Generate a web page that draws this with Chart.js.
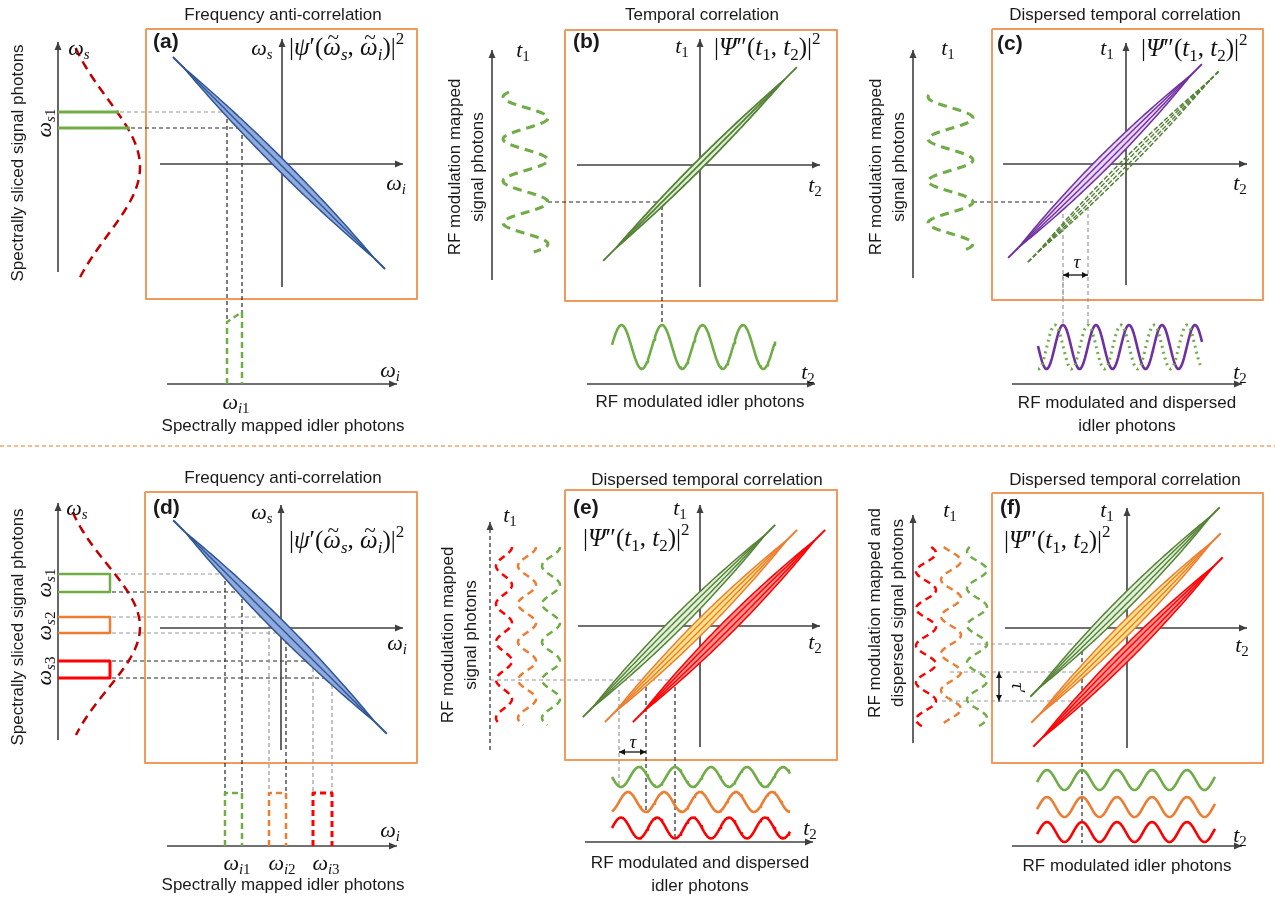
<!DOCTYPE html>
<html>
<head>
<meta charset="utf-8">
<title>Frequency anti-correlation and temporal correlation</title>
<script src="https://cdn.jsdelivr.net/npm/chart.js@4/dist/chart.umd.min.js"></script>
<style>
  html, body { margin: 0; padding: 0; background: #fff; }
  canvas { display: block; }
</style>
</head>
<body>
<canvas id="fig" width="1275" height="901"></canvas>
<script>
// ---- texts ----
const panelTitles = ["Frequency anti-correlation", "Temporal correlation", "Dispersed temporal correlation",
                     "Frequency anti-correlation", "Dispersed temporal correlation", "Dispersed temporal correlation"];
const panelTags = ["(a)", "(b)", "(c)", "(d)", "(e)", "(f)"];
const captions = ["Spectrally mapped idler photons", "RF modulated idler photons", "RF modulated and dispersed\nidler photons",
                  "Spectrally mapped idler photons", "RF modulated and dispersed\nidler photons", "RF modulated idler photons"];
const sideLabels = ["Spectrally sliced signal photons", "RF modulation mapped\nsignal photons", "RF modulation mapped\nsignal photons",
                    "Spectrally sliced signal photons", "RF modulation mapped\nsignal photons", "RF modulation mapped and\ndispersed signal photons"];
const formulaA = "|ψ′(~ω_s, ~ω_i)|^2";
const formulaT = "|Ψ″(t_1, t_2)|^2";

// ---- joint spectra / joint temporal intensities: centre x, centre y, half length, tip half length, half width, rising?, style ----
const lenses = [
  [279, 163, 135, 150, 5.5, false, "blue"],
  [700, 164, 119, 137, 4.2, true, "greenThin"],
  [1105, 161, 122, 137, 6.5, true, "purple"],
  [1124, 166, 122, 136, 4.8, true, "greenDash"],
  [280, 627, 134, 151, 6.5, false, "blue"],
  [679, 621, 122, 136, 6.5, true, "green"],
  [701, 626, 122, 136, 6.5, true, "orange"],
  [729, 626, 122, 136, 6.5, true, "red"],
  [1125, 602, 122, 134, 6.5, true, "green"],
  [1126, 628, 122, 134, 6.5, true, "orange"],
  [1128, 652, 122, 134, 6.5, true, "red"]
];

// ---- signal spectra (gaussian): axis x, centre y, from y, to y, peak height, width ----
const spectra = [[58, 167, 48, 282, 82, 68], [58, 627, 512, 735, 82, 62]];

// ---- signal-side RF traces: centre x, from y, to y, amplitude, period, y of right crest, colour ----
const signalWaves = [
  [525.5, 92, 252, 22.5, 42, 202, "g"],
  [950.5, 95, 250, 22.5, 42, 202, "g"],
  [504, 547, 725, 8, 38, 547, "r"],
  [527, 547, 725, 9, 38, 547, "o"],
  [551, 547, 725, 9, 38, 547, "g"],
  [926, 547, 727, 10, 37, 701, "r"],
  [951, 547, 727, 10, 37, 672, "o"],
  [977, 547, 727, 10, 37, 644, "g"]
];

// ---- idler-side RF traces: centre y, from x, to x, amplitude, period, x of crest, colour, dotted ----
const idlerWaves = [
  [347, 612, 775, 22, 40.5, 662, "g", 0],
  [347, 1038, 1202, 22, 33, 1063, "p", 0],
  [347, 1038, 1202, 22, 33, 1088, "g", 1],
  [777, 612, 790, 10, 36, 675, "g", 0],
  [802, 612, 790, 10, 36, 664, "o", 0],
  [828, 612, 790, 10.5, 36, 657, "r", 0],
  [780, 1037, 1215, 10, 35, 1082, "g", 0],
  [807, 1037, 1215, 10, 35, 1082, "o", 0],
  [832, 1037, 1215, 10, 35, 1082, "r", 0]
];

// ---- spectral slices: signal side [axis x, y top, y bottom, right x, colour], idler side [x left, x right, top left y, top right y, base y, colour] ----
const signalSlices = [[58, 112, 128, 0, "g"], [58, 574, 592, 110, "g"], [58, 617, 633, 110, "o"], [58, 661, 678, 110, "r"]];
const idlerSlices = [[227, 242, 322, 312, 384, "g"], [225, 242, 793, 793, 846, "g"], [269, 286, 793, 793, 846, "o"], [313, 332, 793, 793, 846, "r"]];

// ---- layout ----
const boxes = [[146, 29, 417, 299], [565, 30, 837, 301], [992, 29, 1263, 300],
               [145, 492, 417, 763], [565, 490, 837, 760], [992, 493, 1263, 763]];
const titlePos = [[283, 15], [702, 15], [1125, 15], [283, 478], [707, 480], [1125, 480]];
const tagPos = [[153, 42], [573, 42], [997, 44], [153, 508], [573, 508], [1000, 508]];
const captionPos = [[283, 426], [700, 402], [1127, 403], [283, 885], [700, 863], [1127, 866]];
const sidePos = [[18, 163], [467, 167], [888, 167], [18, 627], [460, 635], [887, 613]];
const formulaPos = [[289, 47, formulaA], [714, 47, formulaT], [1141, 48, formulaT],
                    [289, 540, formulaA], [583, 538, formulaT], [1004, 540, formulaT]];
// axes with arrow at end; last flag = dashed
const axes = [
  [282, 287, 282, 39], [160, 164, 403, 164], [58, 272, 58, 42], [167, 384, 397, 384],
  [700, 287, 700, 39], [577, 165, 820, 165], [492, 280, 492, 50], [587, 384, 815, 384],
  [1126, 285, 1126, 43], [1003, 164, 1247, 164], [913, 278, 913, 50], [1012, 384, 1242, 384],
  [281, 750, 281, 505], [160, 628, 403, 628], [58, 740, 58, 503], [167, 846, 397, 846],
  [700, 747, 700, 505], [578, 626, 820, 626], [490, 750, 490, 522, 1], [585, 842, 813, 842],
  [1127, 748, 1127, 508], [1005, 628, 1247, 628], [913, 743, 913, 515], [1012, 846, 1242, 846]
];
// guide lines: x1, y1, x2, y2, k = black / g = grey
const guides = [
  [120, 112, 227, 112, "g"], [131, 128, 242, 128, "k"], [227, 112, 227, 322, "k"], [242, 128, 242, 312, "k"],
  [548, 202, 660, 202, "k"], [662, 206, 662, 325, "k"],
  [973, 202, 1053, 202, "k"], [1063, 214, 1063, 325, "g"], [1088, 207, 1088, 325, "g"], [1063, 275, 1063, 300, "g"],
  [117, 574, 225, 574, "g"], [112, 592, 242, 592, "k"], [112, 617, 269, 617, "g"], [112, 633, 286, 633, "g"],
  [112, 661, 313, 661, "k"], [112, 678, 332, 678, "k"],
  [225, 574, 225, 793, "k"], [242, 592, 242, 793, "k"], [269, 617, 269, 793, "g"], [286, 633, 286, 793, "k"],
  [313, 661, 313, 793, "g"], [332, 678, 332, 793, "g"],
  [490, 680, 675, 680, "g"], [619, 690, 619, 785, "g"], [646, 680, 646, 812, "k"], [675, 680, 675, 839, "k"],
  [970, 644, 1082, 644, "g"], [950, 672, 1082, 672, "g"], [942, 701, 1082, 701, "g"], [1082, 644, 1082, 843, "k"]
];
const spans = [[1063, 275, 1088, 275], [619, 752, 646, 752], [999, 672, 999, 701]];
// math labels: text, x, y, size, rotation
const mathLabels = [
  ["ω_s", 79, 48], ["ω_s", 262, 48], ["ω_i", 396, 183], ["ω_i", 390, 370], ["ω_{i1}", 236, 402], ["ω_{s1}", 44, 123, 22, -90],
  ["t_1", 523, 50], ["t_1", 682, 46], ["t_2", 815, 185], ["t_2", 808, 372],
  ["t_1", 948, 48], ["t_1", 1107, 48], ["t_2", 1240, 183], ["τ", 1077, 262, 19], ["t_2", 1240, 372],
  ["ω_s", 77, 508], ["ω_s", 262, 512], ["ω_i", 397, 643], ["ω_i", 390, 830],
  ["ω_{i1}", 237, 863], ["ω_{i2}", 282, 863], ["ω_{i3}", 326, 863],
  ["ω_{s1}", 44, 583, 22, -90], ["ω_{s2}", 44, 626, 22, -90], ["ω_{s3}", 44, 671, 22, -90],
  ["t_1", 510, 515], ["t_1", 680, 508], ["t_2", 815, 642], ["τ", 633, 742, 19], ["t_2", 810, 828],
  ["t_1", 950, 510], ["t_1", 1107, 510], ["t_2", 1242, 645], ["τ′", 1018, 688, 19, 90], ["t_2", 1240, 835]
];

const AXIS = "#404040", BOX = "#F09A5E";
const colours = { g: "#70AD47", o: "#ED7D31", r: "#FF0000", p: "#7030A0" };
const lensStyles = {
  blue: { fill: "#8FAADC", line: "#2F5597", inner: [0] },
  greenThin: { fill: "#E2F0D9", line: "#548235", inner: [0] },
  purple: { fill: "#EBD5F7", line: "#7030A0", inner: [-0.35, 0.35] },
  greenDash: { fill: null, line: "#548235", inner: [-0.35, 0.35], dash: [5, 2] },
  green: { fill: "#E2F0D9", line: "#548235", inner: [-0.35, 0.35] },
  orange: { fill: "#FFE38A", line: "#ED7D31", inner: [-0.35, 0.35] },
  red: { fill: "#FF9090", line: "#FF0000", inner: [-0.35, 0.35] }
};

const datasets = [];
function add(points, o) {
  datasets.push(Object.assign({
    data: points, showLine: true, pointRadius: 0, pointHoverRadius: 0, borderWidth: 1.5,
    borderColor: AXIS, fill: false, tension: 0, borderCapStyle: "butt", borderJoinStyle: "round",
    order: -datasets.length
  }, o));
}
const P = (x, y) => ({ x, y });

// separator and panel frames
add([P(0, 446), P(1275, 446)], { borderColor: "#F4A46E", borderWidth: 1.5, borderDash: [4, 3] });
boxes.forEach(b => add([P(b[0], b[1]), P(b[2], b[1]), P(b[2], b[3]), P(b[0], b[3]), P(b[0], b[1])], { borderColor: BOX, borderWidth: 2 }));

// guide lines
guides.forEach(g => add([P(g[0], g[1]), P(g[2], g[3])], {
  borderColor: g[4] === "k" ? "#262626" : "#9A9A9A", borderWidth: 1.2, borderDash: [4, 3]
}));

// axes
axes.forEach(a => add([P(a[0], a[1]), P(a[2], a[3])], { borderColor: a[4] ? "#262626" : AXIS, borderWidth: a[4] ? 1.2 : 1.6, borderDash: a[4] ? [4, 3] : [] }));
spans.forEach(a => add([P(a[0], a[1]), P(a[2], a[3])], { borderColor: "#111", borderWidth: 1.3 }));

// signal spectra
spectra.forEach(([ax, yc, y0, y1, amp, sig]) => {
  const pts = [];
  for (let y = y0; y <= y1; y += 1) pts.push(P(ax + amp * Math.exp(-((y - yc) ** 2) / (2 * sig * sig)), y));
  add(pts, { borderColor: "#C00000", borderWidth: 2.5, borderDash: [9, 6] });
});
// spectral slices
signalSlices.forEach(([ax, yt, yb, xr, c]) => {
  if (!xr) {
    add([P(ax, yt), P(119, yt)], { borderColor: colours[c], borderWidth: 3 });
    add([P(ax, yb), P(130, yb)], { borderColor: colours[c], borderWidth: 3 });
  } else {
    add([P(ax, yt), P(xr, yt), P(xr, yb), P(ax, yb)], { borderColor: colours[c], borderWidth: c === "r" ? 3 : 2.5 });
  }
});
idlerSlices.forEach(([xl, xr, yl, yr, yb, c]) =>
  add([P(xl, yb), P(xl, yl), P(xr, yr), P(xr, yb)], { borderColor: colours[c], borderWidth: c === "r" ? 3 : 2.5, borderDash: [6, 4] }));

// lenses
lenses.forEach(([cx, cy, L, Lt, W, rising, st]) => {
  const s = lensStyles[st];
  const r = Math.SQRT1_2;
  const u = rising ? [r, -r] : [r, r];
  const v = [-u[1], u[0]];
  const at = (t, k) => P(cx + u[0] * L * t + v[0] * W * k * (1 - t * t), cy + u[1] * L * t + v[1] * W * k * (1 - t * t));
  const n = 80;
  const outline = [];
  for (let i = 0; i <= n; i++) outline.push(at(-1 + 2 * i / n, 1));
  for (let i = n; i >= 0; i--) outline.push(at(-1 + 2 * i / n, -1));
  const dash = s.dash || [];
  add(outline, {
    borderColor: s.line, borderWidth: st === "greenThin" ? 1.8 : 1.5, borderDash: dash,
    fill: s.fill ? "shape" : false, backgroundColor: s.fill || "transparent"
  });
  s.inner.forEach(k => {
    const pts = [];
    for (let i = 0; i <= n; i++) pts.push(at(-1 + 2 * i / n, k));
    add(pts, { borderColor: s.line, borderWidth: st === "greenThin" ? 1.8 : 1.4, borderDash: dash });
  });
  add([P(cx - u[0] * Lt, cy - u[1] * Lt), P(cx - u[0] * L, cy - u[1] * L)], { borderColor: s.line, borderWidth: 2, borderDash: dash });
  add([P(cx + u[0] * L, cy + u[1] * L), P(cx + u[0] * Lt, cy + u[1] * Lt)], { borderColor: s.line, borderWidth: 2, borderDash: dash });
});

// RF traces
signalWaves.forEach(([cx, y0, y1, A, per, yc, c]) => {
  const pts = [];
  for (let y = y0; y <= y1; y += 1) pts.push(P(cx + A * Math.cos(2 * Math.PI * (y - yc) / per), y));
  add(pts, { borderColor: colours[c], borderWidth: A > 15 ? 3 : 2.5, borderDash: A > 15 ? [9, 6] : [7, 5] });
});
idlerWaves.forEach(([cy, x0, x1, A, per, xc, c, dotted]) => {
  const pts = [];
  for (let x = x0; x <= x1; x += 1) pts.push(P(x, cy - A * Math.cos(2 * Math.PI * (x - xc) / per)));
  add(pts, { borderColor: colours[c], borderWidth: dotted ? 3 : 2.6, borderDash: dotted ? [2, 4] : [] });
});

// ---- text helpers ----
const SERIF = '"Liberation Serif", "DejaVu Serif", serif';
const SANS = '"Liberation Sans", Arial, sans-serif';
function mathSegs(str) {
  const segs = [];
  let i = 0;
  while (i < str.length) {
    const c = str[i];
    let mode = "n", tilde = false, txt;
    if (c === "_" || c === "^") {
      mode = c === "_" ? "sub" : "sup";
      i++;
      if (str[i] === "{") { const j = str.indexOf("}", i); txt = str.slice(i + 1, j); i = j + 1; }
      else { txt = str[i]; i++; }
    } else if (c === "~") { tilde = true; txt = str[i + 1]; i += 2; }
    else { txt = c; i++; }
    for (const ch of txt) segs.push({ ch, mode, tilde });
  }
  return segs;
}
function drawMath(ctx, str, x, y, size, align, rotDeg) {
  const segs = mathSegs(str);
  const fontFor = s => {
    const sz = s.mode === "n" ? size : size * 0.68;
    const it = /[A-Za-z\u0370-\u03ff]/.test(s.ch) ? "italic " : "";
    return it + sz + "px " + SERIF;
  };
  let w = 0;
  segs.forEach(s => { ctx.font = fontFor(s); s.w = ctx.measureText(s.ch).width; w += s.w; });
  ctx.save();
  ctx.translate(x, y);
  if (rotDeg) ctx.rotate(rotDeg * Math.PI / 180);
  ctx.textAlign = "left";
  ctx.textBaseline = "alphabetic";
  let cx = align === "left" ? 0 : -w / 2;
  const base = size * 0.3;
  segs.forEach(s => {
    ctx.font = fontFor(s);
    const dy = s.mode === "sub" ? size * 0.22 : s.mode === "sup" ? -size * 0.42 : 0;
    ctx.fillText(s.ch, cx, base + dy);
    if (s.tilde) {
      ctx.font = size * 0.85 + "px " + SERIF;
      const tw = ctx.measureText("~").width;
      ctx.fillText("~", cx + s.w / 2 - tw / 2 + 1, base - size * 0.42);
    }
    cx += s.w;
  });
  ctx.restore();
}
function head(ctx, x1, y1, x2, y2, len, hw) {
  const a = Math.atan2(y2 - y1, x2 - x1);
  const c = Math.cos(a), s = Math.sin(a);
  ctx.beginPath();
  ctx.moveTo(x2, y2);
  ctx.lineTo(x2 - len * c + hw * s, y2 - len * s - hw * c);
  ctx.lineTo(x2 - len * c - hw * s, y2 - len * s + hw * c);
  ctx.closePath();
  ctx.fill();
}

const decor = {
  id: "decor",
  afterDatasetsDraw(chart) {
    const { ctx } = chart;
    const X = v => chart.scales.x.getPixelForValue(v);
    const Y = v => chart.scales.y.getPixelForValue(v);
    ctx.save();
    ctx.fillStyle = AXIS;
    axes.forEach(a => head(ctx, X(a[0]), Y(a[1]), X(a[2]), Y(a[3]), 8, 3.5));
    ctx.fillStyle = "#111";
    spans.forEach(a => {
      head(ctx, X(a[0]), Y(a[1]), X(a[2]), Y(a[3]), 6, 3);
      head(ctx, X(a[2]), Y(a[3]), X(a[0]), Y(a[1]), 6, 3);
    });

    ctx.fillStyle = "#1a1a1a";
    ctx.textAlign = "center";
    ctx.textBaseline = "middle";
    ctx.font = "17px " + SANS;
    panelTitles.forEach((t, i) => ctx.fillText(t, X(titlePos[i][0]), Y(titlePos[i][1])));
    captions.forEach((t, i) => t.split("\n").forEach((line, j) =>
      ctx.fillText(line, X(captionPos[i][0]), Y(captionPos[i][1]) + j * 23)));
    sideLabels.forEach((t, i) => {
      const lines = t.split("\n");
      ctx.save();
      ctx.translate(X(sidePos[i][0]), Y(sidePos[i][1]));
      ctx.rotate(-Math.PI / 2);
      lines.forEach((line, j) => ctx.fillText(line, 0, (j - (lines.length - 1) / 2) * 23));
      ctx.restore();
    });
    ctx.font = "bold 21px " + SANS;
    ctx.textAlign = "left";
    panelTags.forEach((t, i) => ctx.fillText(t, X(tagPos[i][0]), Y(tagPos[i][1])));

    ctx.fillStyle = "#111";
    formulaPos.forEach(f => drawMath(ctx, f[2], X(f[0]), Y(f[1]), 25, "left"));
    mathLabels.forEach(m => drawMath(ctx, m[0], X(m[1]), Y(m[2]), m[3] || 22, "center", m[4] || 0));
    ctx.restore();
  }
};

new Chart(document.getElementById("fig"), {
  type: "scatter",
  data: { datasets },
  options: {
    responsive: false,
    animation: false,
    devicePixelRatio: 1,
    events: [],
    layout: { padding: 0 },
    plugins: { legend: { display: false }, tooltip: { enabled: false } },
    scales: {
      x: { type: "linear", min: 0, max: 1275, display: false },
      y: { type: "linear", min: 0, max: 901, reverse: true, display: false }
    }
  },
  plugins: [decor]
});
</script>
</body>
</html>
